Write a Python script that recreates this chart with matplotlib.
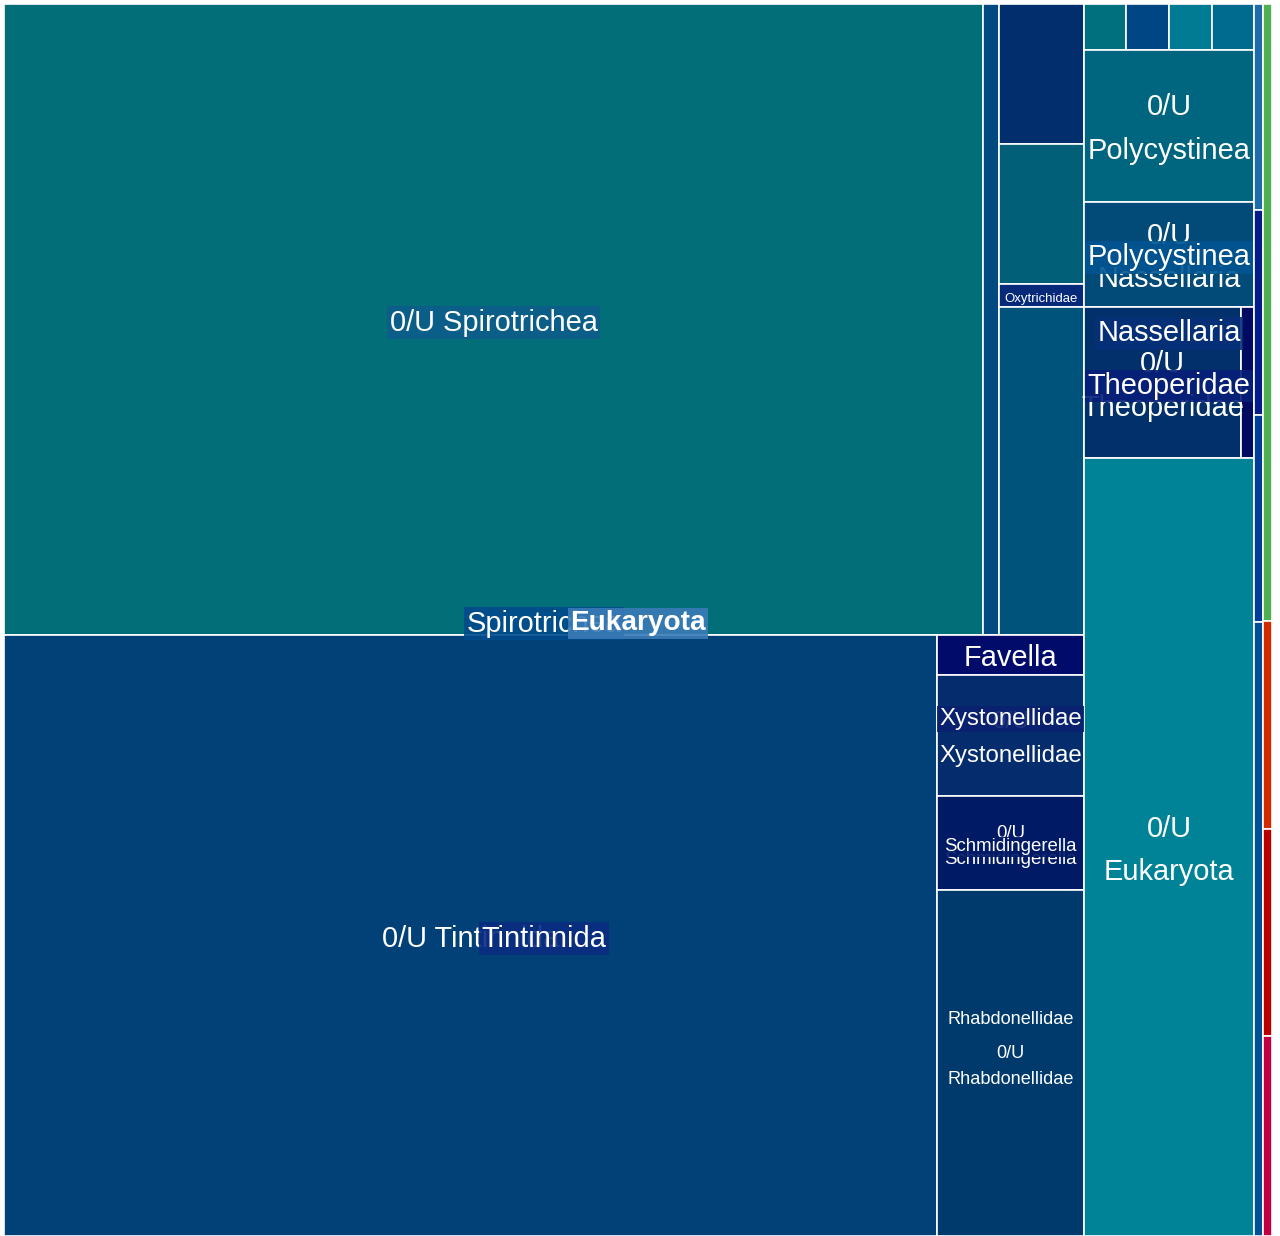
import matplotlib
matplotlib.use("Agg")
import matplotlib.pyplot as plt
from matplotlib.patches import Rectangle

plt.rcParams['font.family'] = ['Liberation Sans', 'DejaVu Sans']

# ================== Data: reads per taxon ==================
# Spirotrichea, upper band
spiro_top_names = ["0/U Spirotrichea", "0/U Strombidiida"]
spiro_top_values = [61712, 978]
spiro_col_names = ["0/U Strombidiidae", "0/U Strombidium", "Oxytrichidae", "0/U Choreotrichia"]
spiro_col_values = [1186, 1190, 196, 2788]

# Tintinnida
tint_names = ["0/U Tintinnida"]
tint_values = [56060]
xyst_names = ["Favella", "0/U Xystonellidae"]
xyst_values = [595, 1779]
schmid_names = ["0/U Schmidingerella"]
schmid_values = [1382]
rhab_names = ["0/U Rhabdonellidae"]
rhab_values = [5079]

# Radiolaria column
small_names = ["0/U Acantharea", "0/U RAD-B", "0/U RAD-C", "0/U Spumellaria"]
small_values = [193, 196, 192, 193]
poly_names = ["0/U Polycystinea"]
poly_values = [2584]
nass_names = ["0/U Nassellaria"]
nass_values = [1785]
theo_names = ["0/U Theoperidae", "Cycladophora"]
theo_values = [2371, 198]
euk_names = ["0/U Eukaryota"]
euk_values = [13218]

# thin strips on the right
strip1_names = ["0/U Dinophyceae", "0/U Syndiniales", "0/U Gymnodiniales", "0/U MALV-II"]
strip1_values = [185, 185, 186, 552]
strip2_names = ["0/U Chlorophyta", "0/U Metazoa", "0/U Fungi", "0/U Cryptophyta"]
strip2_values = [555, 187, 186, 180]

# ================== Styles ==================
spiro_top_colors = ["#026e78", "#004a80"]
spiro_col_colors = ["#022e6e", "#015f78", "#06297a", "#00537a"]
tint_colors = ["#024078"]
xyst_colors = ["#000b6a", "#052d6e"]
schmid_colors = ["#011a66"]
rhab_colors = ["#003a6c"]
small_colors = ["#00707e", "#004684", "#007b93", "#006b8f"]
poly_colors = ["#00667f"]
nass_colors = ["#024a78"]
theo_colors = ["#02306a", "#000a60"]
euk_colors = ["#008396"]
strip1_colors = ["#1f6aa8", "#031c8a", "#003d99", "#005096"]
strip2_colors = ["#4fb04f", "#d42a00", "#b80000", "#c00040"]

GROUP_BG = {
    "Eukaryota": "#3a7bb6", "Spirotrichea": "#004b8c", "Tintinnida": "#0a2c82",
    "Xystonellidae": "#0a206f", "Schmidingerella": "#011a66",
    "Rhabdonellidae": "#003a6c", "Polycystinea": "#005591",
    "Nassellaria": "#062f79", "Theoperidae": "#061f78",
}
LEAF_BG = {"0/U Spirotrichea": "#0c5d8a"}
SHOWN_LEAVES = {"0/U Spirotrichea", "0/U Tintinnida", "Favella", "0/U Xystonellidae",
                "0/U Schmidingerella", "0/U Rhabdonellidae", "0/U Polycystinea",
                "0/U Nassellaria", "0/U Theoperidae", "0/U Eukaryota", "Oxytrichidae"}
FONT_PX = {"0/U Xystonellidae": 24, "Xystonellidae": 24,
           "0/U Schmidingerella": 18.6, "Schmidingerella": 18.6,
           "0/U Rhabdonellidae": 18.2, "Rhabdonellidae": 18.2,
           "Oxytrichidae": 13.1, "Eukaryota": 28}
DEFAULT_PX = 29
Y_NUDGE = 3.5   # px, text sits a bit below the box centre


# ================== Build hierarchy ==================
def leaves(names, values, colors):
    return [dict(name=n, value=v, color=c) for n, v, c in zip(names, values, colors)]


def group(name, split, children):
    return dict(name=name, split=split, children=children)


tree = group("Eukaryota", "h", [
    group("Spirotrichea", "v", [
        group(None, "h", leaves(spiro_top_names, spiro_top_values, spiro_top_colors) + [
            group(None, "v", leaves(spiro_col_names, spiro_col_values, spiro_col_colors))]),
        group("Tintinnida", "h", leaves(tint_names, tint_values, tint_colors) + [
            group(None, "v", [
                group("Xystonellidae", "v", leaves(xyst_names, xyst_values, xyst_colors)),
                group("Rhabdonellidae", "v", [
                    group("Schmidingerella", "v", leaves(schmid_names, schmid_values, schmid_colors))]
                    + leaves(rhab_names, rhab_values, rhab_colors)),
            ])]),
    ]),
    group(None, "v", [
        group(None, "h", leaves(small_names, small_values, small_colors)),
        group("Polycystinea", "v", leaves(poly_names, poly_values, poly_colors) + [
            group("Nassellaria", "v", leaves(nass_names, nass_values, nass_colors) + [
                group("Theoperidae", "h", leaves(theo_names, theo_values, theo_colors))])]),
    ] + leaves(euk_names, euk_values, euk_colors)),
    group(None, "v", leaves(strip1_names, strip1_values, strip1_colors)),
    group(None, "v", leaves(strip2_names, strip2_values, strip2_colors)),
])


def total(node):
    if 'children' in node:
        return sum(total(k) for k in node['children'])
    return node['value']


def layout(node, x0, y0, x1, y1, depth=0):
    node['rect'] = (x0, y0, x1, y1)
    node['depth'] = depth
    if 'children' not in node:
        return
    tot = total(node)
    pos = x0 if node['split'] == 'h' else y0
    for k in node['children']:
        frac = total(k) / tot
        if node['split'] == 'h':
            w = (x1 - x0) * frac
            layout(k, pos, y0, pos + w, y1, depth + 1)
            pos += w
        else:
            h = (y1 - y0) * frac
            layout(k, x0, pos, x1, pos + h, depth + 1)
            pos += h


def walk(node):
    yield node
    for k in node.get('children', []):
        yield from walk(k)


W, H = 1268, 1232
layout(tree, 0, 0, W, H)

# ================== Draw ==================
fig = plt.figure(figsize=(12.8, 12.36), dpi=100)
ax = fig.add_axes([4 / 1280, 0, W / 1280, H / 1236])
ax.set_xlim(0, W)
ax.set_ylim(H, 0)
ax.axis('off')
renderer = fig.canvas.get_renderer()

nodes = list(walk(tree))
for n in nodes:
    if 'children' in n:
        continue
    x0, y0, x1, y1 = n['rect']
    ax.add_patch(Rectangle((x0, y0), x1 - x0, y1 - y0, facecolor=n['color'],
                           edgecolor='white', linewidth=1.2, zorder=1))

# leaf labels
for n in nodes:
    if 'children' in n or n['name'] not in SHOWN_LEAVES:
        continue
    x0, y0, x1, y1 = n['rect']
    fs = FONT_PX.get(n['name'], DEFAULT_PX) * 0.72
    bg = LEAF_BG.get(n['name'])
    bbox = dict(boxstyle='square,pad=0.08', fc=bg, ec='none', alpha=0.9) if bg else None
    t = ax.text((x0 + x1) / 2, (y0 + y1) / 2 + Y_NUDGE, n['name'], color='white',
                fontsize=fs, ha='center', va='center', linespacing=1.7, zorder=3, bbox=bbox)
    if t.get_window_extent(renderer).width > (x1 - x0) - 4:
        t.set_text(n['name'].replace(' ', '\n', 1))

# group labels, deepest first so the root ends on top
groups = [n for n in nodes if 'children' in n and n['name']]
for n in sorted(groups, key=lambda g: -g['depth']):
    x0, y0, x1, y1 = n['rect']
    fs = FONT_PX.get(n['name'], DEFAULT_PX) * 0.72
    ax.text((x0 + x1) / 2, (y0 + y1) / 2 + Y_NUDGE, n['name'], color='white', fontsize=fs,
            ha='center', va='center', zorder=10 - n['depth'],
            fontweight='bold' if n['depth'] == 0 else 'normal',
            bbox=dict(boxstyle='square,pad=0.08', fc=GROUP_BG[n['name']], ec='none', alpha=0.9))

fig.savefig('out.png', dpi=100, facecolor='white')
